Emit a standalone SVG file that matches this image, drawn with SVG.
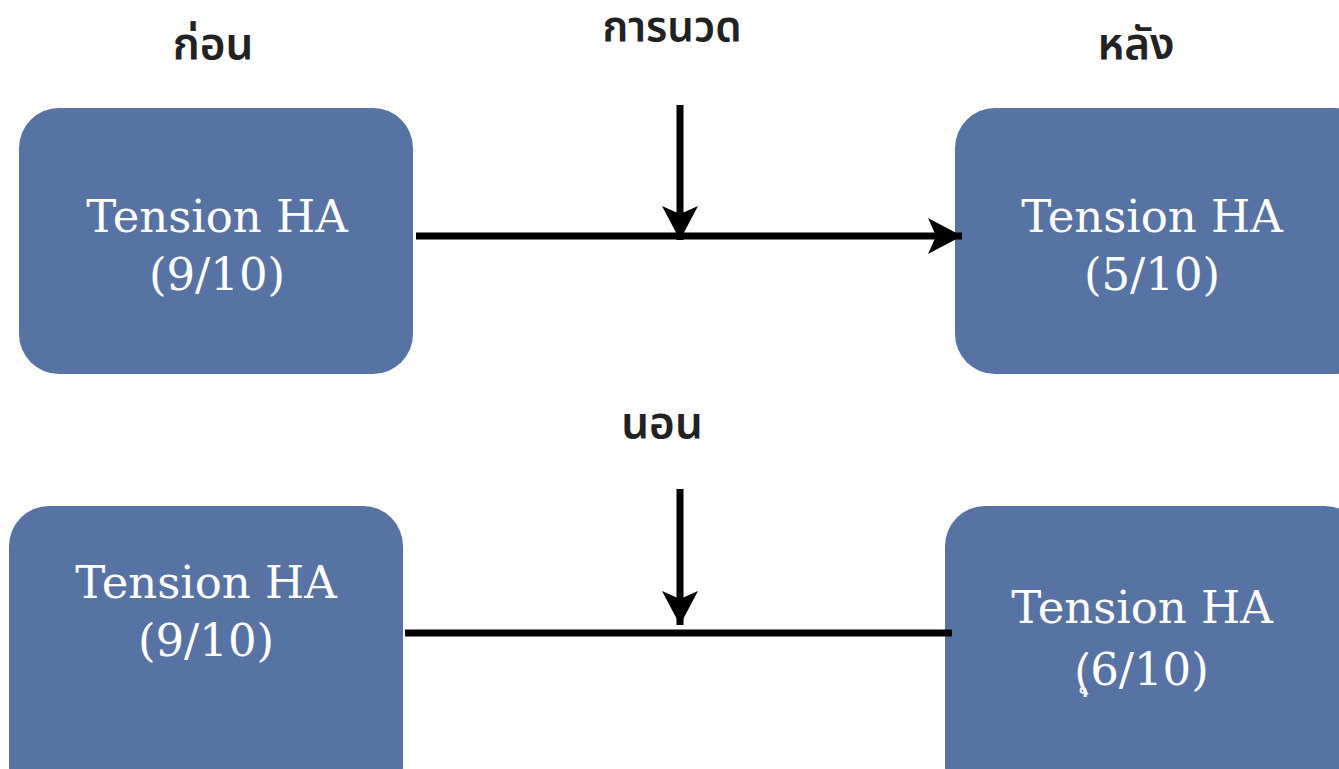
<svg xmlns="http://www.w3.org/2000/svg" width="1339" height="769" viewBox="0 0 1339 769">
<style>
.box{fill:#5773A3;}
.t{font-family:"DejaVu Serif","Liberation Serif",serif;font-size:45px;fill:#ffffff;text-anchor:middle;}
.lbl{font-family:"Noto Sans Thai","Noto Sans Thai UI","Noto Sans","DejaVu Sans",sans-serif;font-size:44px;font-weight:600;fill:#222222;text-anchor:middle;}
.ln{stroke:#000;stroke-width:7;fill:none;}
</style>
<defs>
<marker id="ah" markerUnits="userSpaceOnUse" markerWidth="36" markerHeight="36" refX="34" refY="18" orient="auto">
<path d="M0,0 L34,18 L0,36 L8,18 z" fill="#000"/>
</marker>
</defs>
<rect width="1339" height="769" fill="#ffffff"/>
<g id="label-before"><text class="lbl" x="213" y="59">ก่อน</text></g>
<g id="label-massage"><text class="lbl" x="672" y="41" style="font-size:42px">การนวด</text></g>
<g id="label-after"><text class="lbl" x="1136" y="59">หลัง</text></g>
<g id="label-sleep"><text class="lbl" x="662" y="438">นอน</text></g>
<g id="node-before-1">
<rect class="box" x="19" y="108" width="394" height="266" rx="40"/>
<text class="t" x="217" y="232">Tension HA</text>
<text class="t" x="217" y="290">(9/10)</text>
</g>
<g id="node-after-1">
<rect class="box" x="955" y="108" width="420" height="266" rx="40"/>
<text class="t" x="1152" y="232">Tension HA</text>
<text class="t" x="1152" y="290">(5/10)</text>
</g>
<g id="node-before-2">
<rect class="box" x="9" y="506" width="394" height="300" rx="40"/>
<text class="t" x="206" y="598">Tension HA</text>
<text class="t" x="206" y="656">(9/10)</text>
</g>
<g id="node-after-2">
<rect class="box" x="945" y="506" width="420" height="300" rx="40"/>
<text class="t" x="1142" y="623">Tension HA</text>
<text class="t" x="1142" y="685">(ุ6/10)</text>
</g>
<g id="connectors">
<line class="ln" x1="416" y1="236" x2="962" y2="236" marker-end="url(#ah)"/>
<line class="ln" x1="680" y1="105" x2="680" y2="240" marker-end="url(#ah)"/>
<line class="ln" x1="405" y1="633" x2="952" y2="633"/>
<line class="ln" x1="680" y1="489" x2="680" y2="625" marker-end="url(#ah)"/>
</g>
</svg>
